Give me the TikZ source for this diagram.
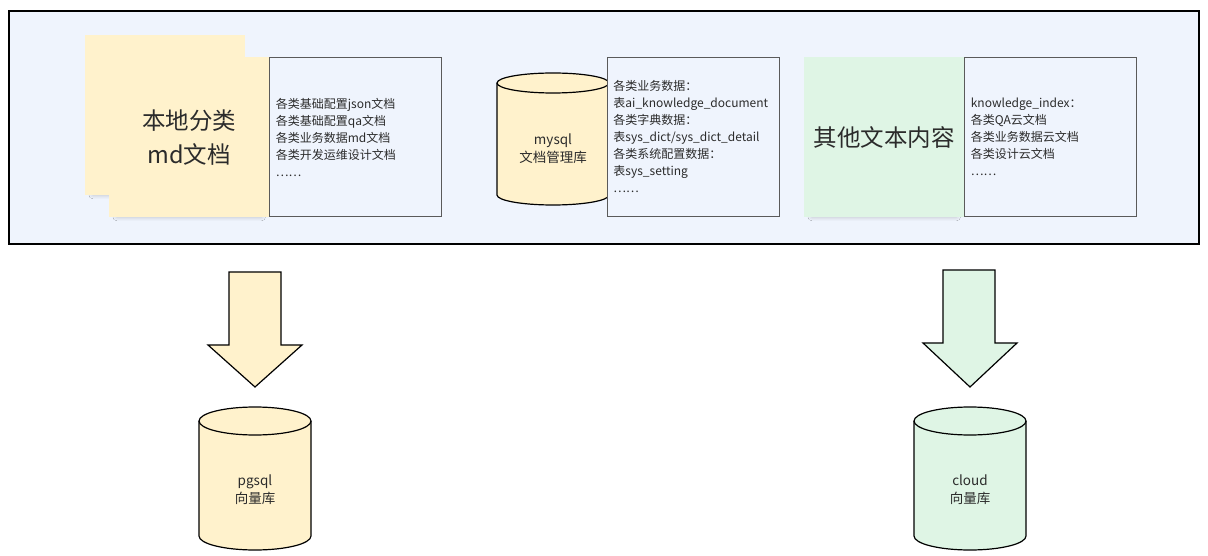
\documentclass[tikz,border=0pt]{standalone}
\usepackage{fontspec}
\setmainfont{Noto Sans CJK SC}
\usepackage{xcolor}
\usepackage{tikz}
\usetikzlibrary{positioning,shadows.blur}

\definecolor{panelblue}{HTML}{EFF4FD}
\definecolor{noteyellow}{HTML}{FFF2CC}
\definecolor{notegreen}{HTML}{DFF5E5}
\definecolor{textgray}{HTML}{2B2B2B}
\definecolor{edgegray}{HTML}{5A5A5A}

% cylinder outline: centre x, top and bottom ellipse centres, radii, fill
\newcommand{\dbshape}[6]{%
  \filldraw[fill=#6, draw=black, line width=1.2pt]
    (#1-#4,#2) -- (#1-#4,#3) arc[start angle=180, end angle=360, x radius=#4, y radius=#5]
    -- (#1+#4,#2) arc[start angle=0, end angle=180, x radius=#4, y radius=#5] -- cycle;
  \draw[line width=1.2pt] (#1-#4,#2) arc[start angle=180, end angle=360, x radius=#4, y radius=#5];
}

\begin{document}
\begin{tikzpicture}[
    x=1pt, y=1pt,
    panel/.style={draw=black, line width=1.6pt, fill=panelblue, minimum width=1190pt, minimum height=233pt, inner sep=0pt},
    note/.style={minimum width=160pt, minimum height=160pt, inner sep=0pt, align=center, text=textgray, font=\fontsize{23.5}{34}\selectfont},
    soft/.style={blur shadow={shadow xshift=0pt, shadow yshift=-8pt, shadow opacity=30, shadow scale=0.9, shadow blur radius=5pt}},
    listbox/.style={draw=edgegray, line width=0.9pt, fill=panelblue, minimum width=172pt, minimum height=159pt, text width=160pt, inner xsep=6pt, inner ysep=0pt, align=left, text=textgray, font=\fontsize{12}{17}\selectfont},
    dblabel/.style={align=center, text=textgray, font=\fontsize{13.5}{18}\selectfont},
    bigarrow/.style={draw=black, line width=1.2pt, line join=miter}
]
\useasboundingbox (0,0) rectangle (1208,555);

\node[panel, anchor=north west] (frame) at (8,545) {};

% local markdown documents
\node[note, fill=noteyellow, soft, anchor=north west] (localback) at (85,520) {};
\node[note, fill=noteyellow, soft, anchor=north west] (localdoc) at (109,498) {本地分类\\md文档};
\node[listbox, right=0pt of localdoc] (localList) {各类基础配置json文档\\各类基础配置qa文档\\各类业务数据md文档\\各类开发运维设计文档\\……};

% mysql
\dbshape{553}{472}{360}{56}{10}{noteyellow}
\node[dblabel] (mysql) at (553,406) {mysql\\文档管理库};
\node[listbox, anchor=north west] (mysqlList) at (607,498) {各类业务数据：\\表ai\_knowledge\_document\\各类字典数据：\\表sys\_dict/sys\_dict\_detail\\各类系统配置数据：\\表sys\_setting\\……};

% other texts
\node[note, fill=notegreen, soft, anchor=north west] (otherdoc) at (804,498) {其他文本内容};
\node[listbox, right=0pt of otherdoc] (otherList) {knowledge\_index：\\各类QA云文档\\各类业务数据云文档\\各类设计云文档\\……};

% block arrows
\draw[bigarrow, fill=noteyellow] (229,283) -- (229,210) -- (208,210) -- (255,168) -- (302,210) -- (281,210) -- (281,283) -- cycle;
\draw[bigarrow, fill=notegreen] (943,285) -- (943,212) -- (923,212) -- (970,168) -- (1017,212) -- (995,212) -- (995,285) -- cycle;

% vector stores
\dbshape{255}{134}{19}{56}{14}{noteyellow}
\node[dblabel] (pgsql) at (255,65) {pgsql\\向量库};
\dbshape{970}{134}{19}{56}{14}{notegreen}
\node[dblabel] (cloud) at (970,65) {cloud\\向量库};
\end{tikzpicture}
\end{document}
